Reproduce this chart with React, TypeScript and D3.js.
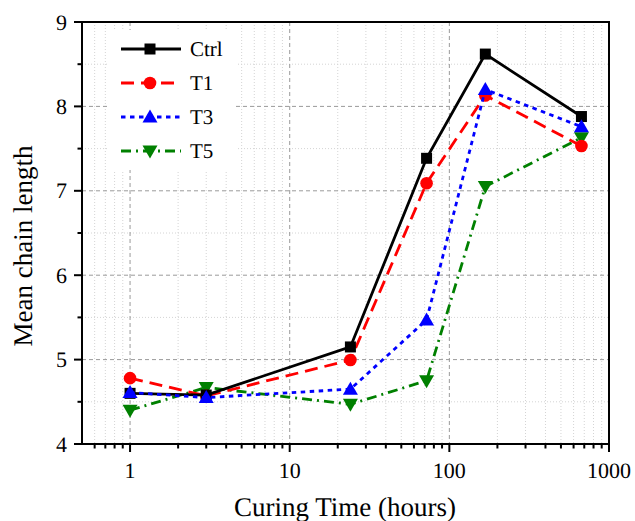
import React from 'react';
import * as d3 from 'd3';

const hours = [1, 3, 24, 72, 168, 672];
const ctrl = [4.60, 4.58, 5.15, 7.385, 8.62, 7.88];
const t1 = [4.78, 4.57, 4.995, 7.09, 8.13, 7.53];
const t3 = [4.61, 4.55, 4.65, 5.47, 8.20, 7.76];
const t5 = [4.40, 4.67, 4.47, 4.75, 7.05, 7.63];
const seriesNames = ['Ctrl', 'T1', 'T3', 'T5'];
const xTickValues = [1, 10, 100, 1000];
const yTickValues = [4, 5, 6, 7, 8, 9];

const W = 635, H = 521;
const M = { left: 82, right: 609, top: 22, bottom: 444 };
const FONT = "'Liberation Serif', serif";
const tstyle = { fontFamily: FONT };

type Sym = 'square' | 'circle' | 'triangle' | 'triangleDown';
const styles: { color: string; dash: string; sym: Sym }[] = [
  { color: '#000000', dash: '', sym: 'square' },
  { color: '#FF0000', dash: '13,7', sym: 'circle' },
  { color: '#0000FF', dash: '4.5,4.5', sym: 'triangle' },
  { color: '#008000', dash: '10,5,2,5', sym: 'triangleDown' },
];

function Marker({ x, y, sym, color }: { x: number; y: number; sym: Sym; color: string }) {
  if (sym === 'square') return <rect x={x - 5.5} y={y - 5.5} width={11} height={11} fill={color} />;
  if (sym === 'circle') return <circle cx={x} cy={y} r={6.3} fill={color} />;
  if (sym === 'triangle')
    return <path d={`M${x},${y - 7.5}L${x + 7.5},${y + 5.5}L${x - 7.5},${y + 5.5}Z`} fill={color} />;
  return <path d={`M${x},${y + 7.5}L${x + 7.5},${y - 5.5}L${x - 7.5},${y - 5.5}Z`} fill={color} />;
}

export default function App() {
  const x = d3.scaleLog().domain([0.5, 1000]).range([M.left, M.right]);
  const y = d3.scaleLinear().domain([4, 9]).range([M.bottom, M.top]);
  const data = [ctrl, t1, t3, t5];

  const minorX: number[] = [];
  [0.1, 1, 10, 100].forEach((d) => {
    for (let k = 2; k <= 9; k++) {
      const v = d * k;
      if (v > 0.5 && v < 1000) minorX.push(v);
    }
  });
  const minorY = [4.5, 5.5, 6.5, 7.5, 8.5];
  const majorGridX = [1, 10, 100];
  const majorGridY = [5, 6, 7, 8];

  const line = d3
    .line<number>()
    .x((_, i) => x(hours[i]))
    .y((d) => y(d));

  const order = [3, 1, 0, 2];

  return (
    <svg width={W} height={H} textRendering="geometricPrecision" style={{ position: 'fixed', left: 0, top: 0, background: '#fff' }}>
      {minorX.map((v) => (
        <line key={'mx' + v} x1={x(v)} x2={x(v)} y1={M.top} y2={M.bottom} stroke="#d4d4d4" strokeWidth={1} strokeDasharray="1,2" />
      ))}
      {minorY.map((v) => (
        <line key={'my' + v} x1={M.left} x2={M.right} y1={y(v)} y2={y(v)} stroke="#d4d4d4" strokeWidth={1} strokeDasharray="1,2" />
      ))}
      {majorGridX.map((v) => (
        <line key={'gx' + v} x1={x(v)} x2={x(v)} y1={M.top} y2={M.bottom} stroke="#9a9a9a" strokeWidth={1} strokeDasharray="4,3" />
      ))}
      {majorGridY.map((v) => (
        <line key={'gy' + v} x1={M.left} x2={M.right} y1={y(v)} y2={y(v)} stroke="#9a9a9a" strokeWidth={1} strokeDasharray="4,3" />
      ))}
      <rect x={108} y={30} width={128} height={140} fill="#fff" />

      {order.map((si) => (
        <g key={'s' + si}>
          <path d={line(data[si]) || ''} fill="none" stroke={styles[si].color} strokeWidth={2.8} strokeDasharray={styles[si].dash} />
          {data[si].map((v, i) => (
            <Marker key={i} x={x(hours[i])} y={y(v)} sym={styles[si].sym} color={styles[si].color} />
          ))}
        </g>
      ))}

      <rect x={M.left} y={M.top} width={M.right - M.left} height={M.bottom - M.top} fill="none" stroke="#000" strokeWidth={2} />

      {xTickValues.map((v) => (
        <g key={'xt' + v}>
          <line x1={x(v)} x2={x(v)} y1={M.bottom} y2={M.bottom + 8} stroke="#000" strokeWidth={2} />
          <text x={x(v)} y={478} textAnchor="middle" fontSize={22} style={tstyle}>{v}</text>
        </g>
      ))}
      {minorX.map((v) => (
        <line key={'mxt' + v} x1={x(v)} x2={x(v)} y1={M.bottom} y2={M.bottom + 4.5} stroke="#000" strokeWidth={2} />
      ))}
      {yTickValues.map((v) => (
        <g key={'yt' + v}>
          <line x1={M.left} x2={M.left - 8} y1={y(v)} y2={y(v)} stroke="#000" strokeWidth={2} />
          <text x={67} y={y(v) + 7.5} textAnchor="end" fontSize={22} style={tstyle}>{v}</text>
        </g>
      ))}
      {minorY.map((v) => (
        <line key={'myt' + v} x1={M.left} x2={M.left - 4.5} y1={y(v)} y2={y(v)} stroke="#000" strokeWidth={2} />
      ))}

      <text x={345} y={516} textAnchor="middle" fontSize={27} style={tstyle}>Curing Time (hours)</text>
      <text transform={`translate(32,${246}) rotate(-90)`} textAnchor="middle" fontSize={27} style={tstyle}>Mean chain length</text>

      {seriesNames.map((name, i) => {
        const ly = 49 + i * 34;
        return (
          <g key={'lg' + name}>
            <line x1={121} x2={181} y1={ly} y2={ly} stroke={styles[i].color} strokeWidth={2.8} strokeDasharray={styles[i].dash} />
            <Marker x={150} y={ly} sym={styles[i].sym} color={styles[i].color} />
            <text x={190} y={ly + 7} fontSize={21} style={tstyle}>{name}</text>
          </g>
        );
      })}
    </svg>
  );
}
